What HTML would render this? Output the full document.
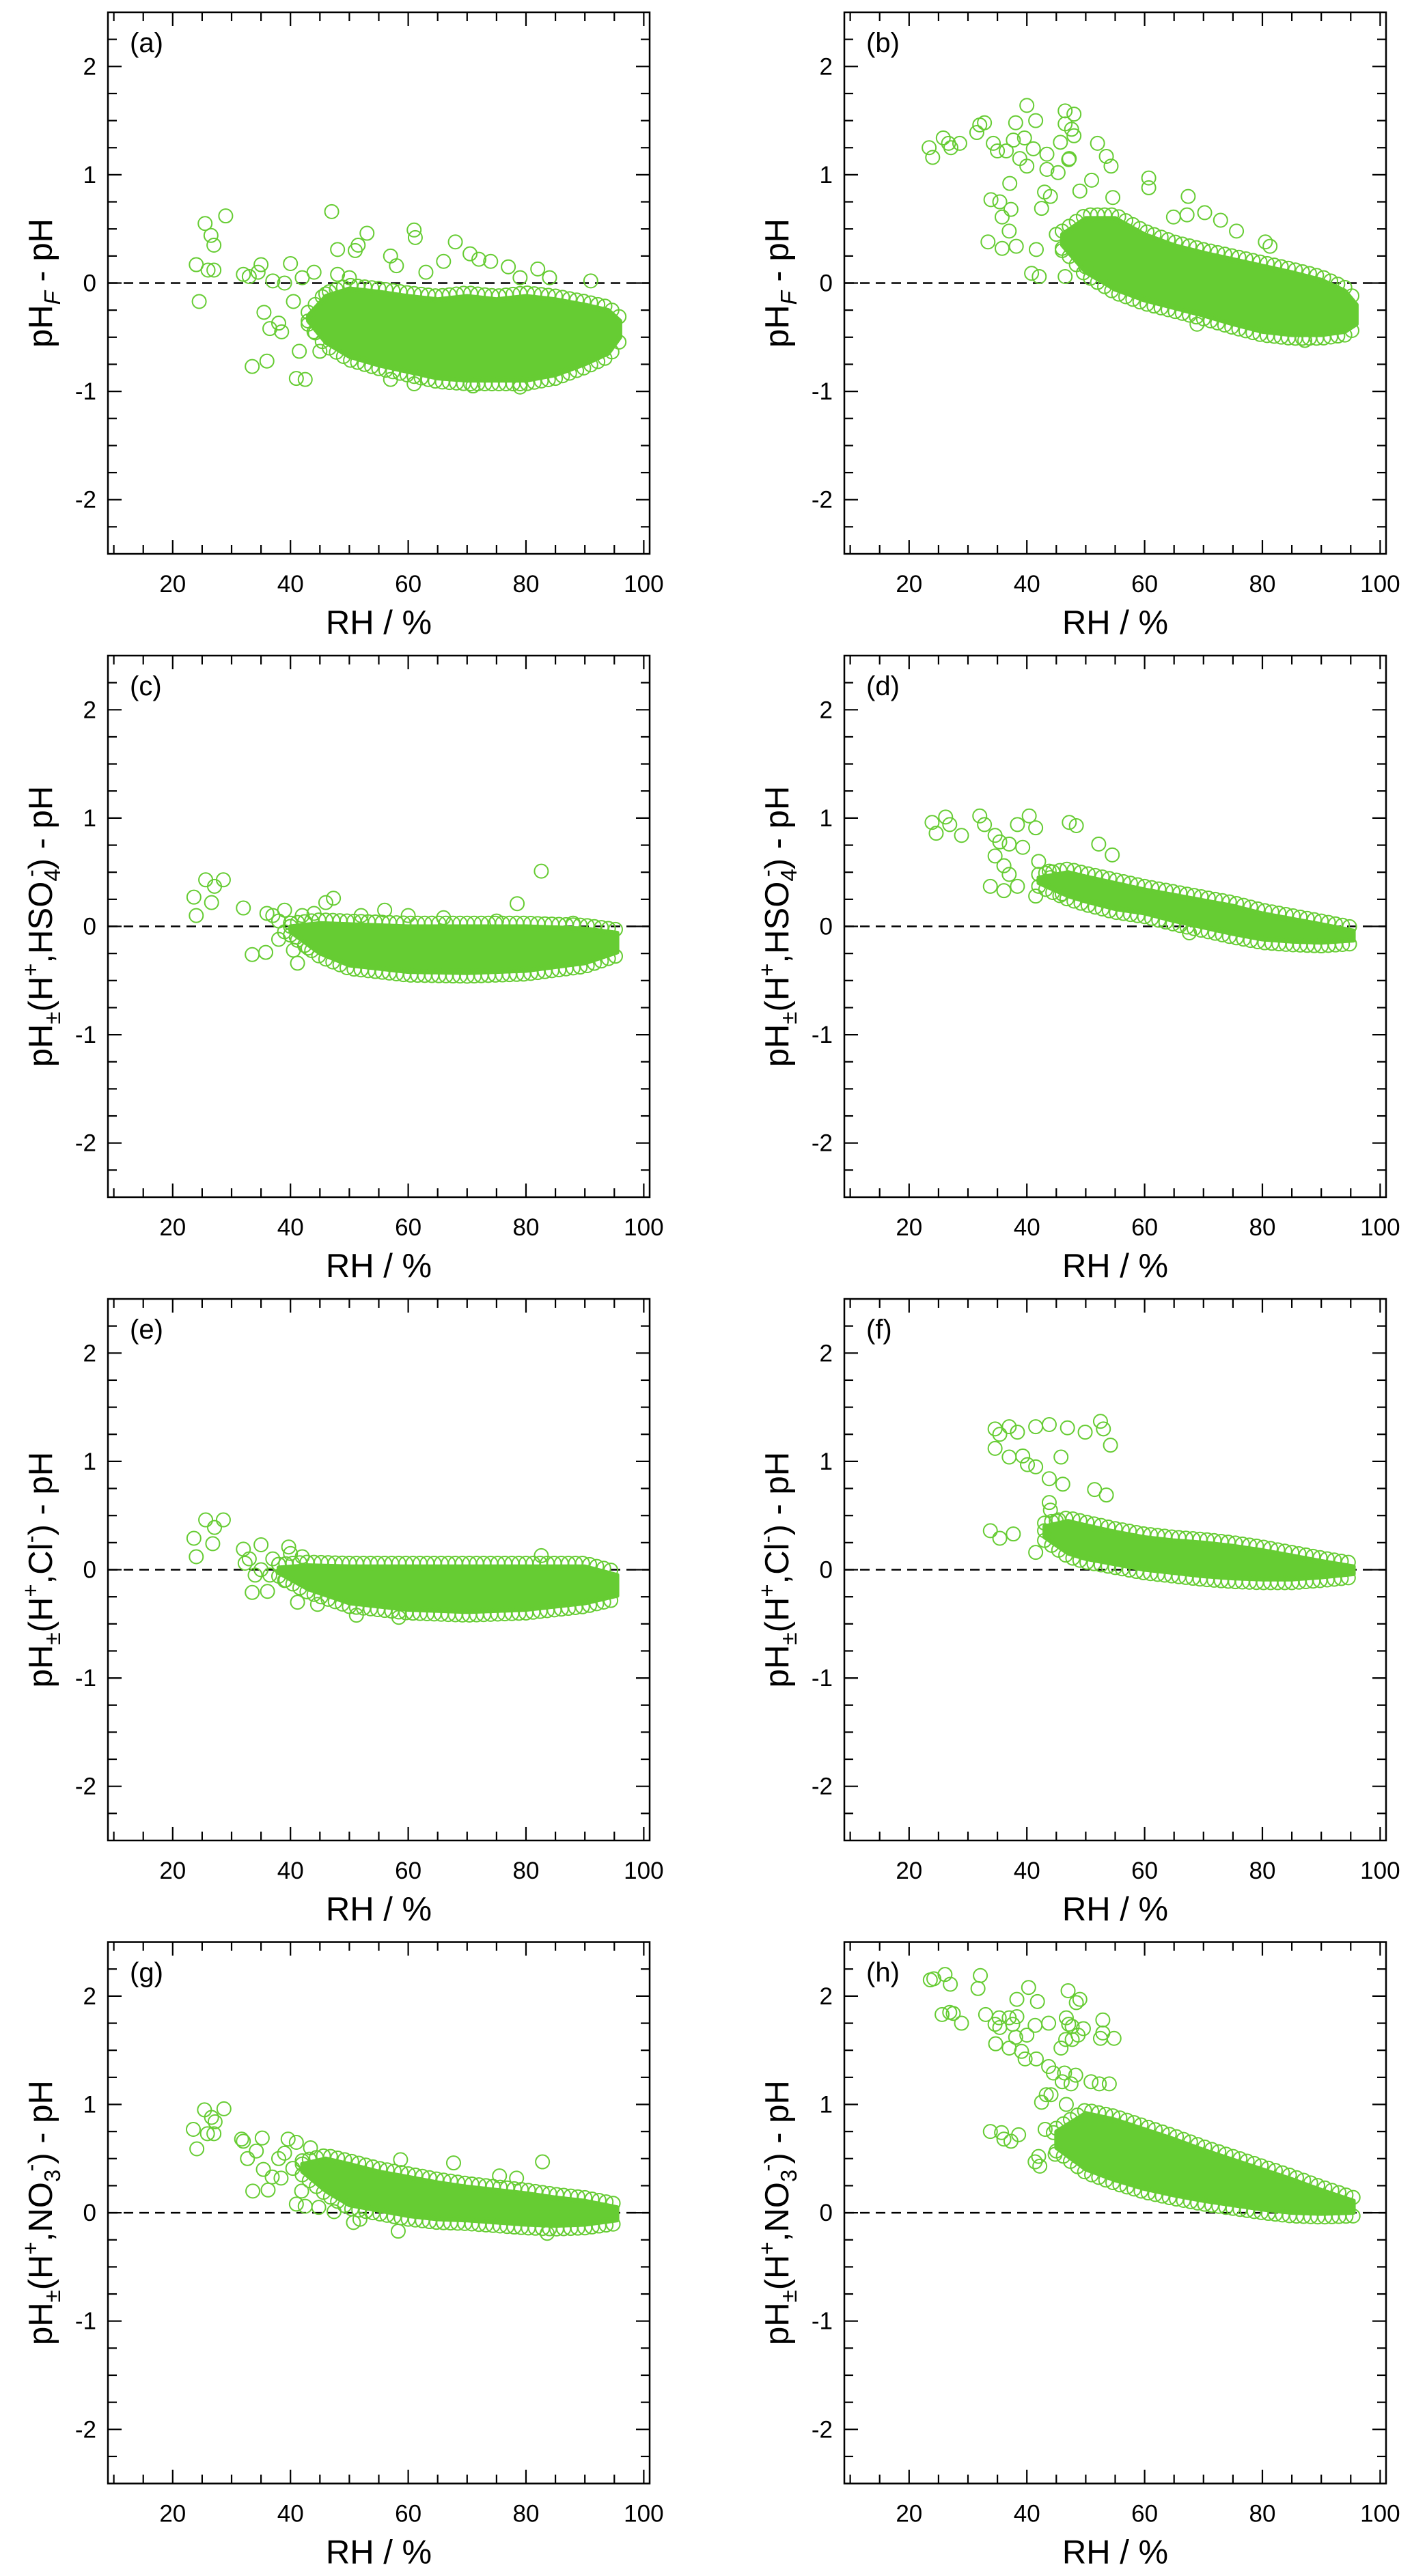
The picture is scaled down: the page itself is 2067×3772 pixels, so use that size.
<!DOCTYPE html>
<html><head><meta charset="utf-8"><style>
html,body{margin:0;padding:0;background:#fff;}
svg{display:block;font-family:"Liberation Sans",Arial,sans-serif;}
</style></head><body>
<svg id="fig" width="2067" height="3772" viewBox="0 0 2067 3772" xmlns="http://www.w3.org/2000/svg"></svg>
<script>
// ---------- data ----------
const xTicks=[20,40,60,80,100];
const yTicks=[-2,-1,0,1,2];
const panelLabels=["(a)","(b)","(c)","(d)","(e)","(f)","(g)","(h)"];

const aOutX=[24,24.5,25.5,26,26.5,27,27,29,32,33.5,34.5,35,35.5,36,36.5,38,38.5,40,40.5,41,41.5,42.5,43,44,45,47,48,51,51.5,53,57,57,58,61,61.2,63,66,68,70.5,72,74,77,79,82,84,91,61,71,79,37,42,44,33,39,46,48,50];
const aOutY=[0.17,-0.17,0.55,0.12,0.44,0.35,0.12,0.62,0.08,-0.77,0.1,0.17,-0.27,-0.72,-0.42,-0.37,-0.45,0.18,-0.17,-0.88,-0.63,-0.89,-0.35,-0.45,-0.63,0.66,0.31,0.3,0.35,0.46,0.25,-0.89,0.16,0.49,0.42,0.1,0.2,0.38,0.27,0.22,0.2,0.15,0.05,0.13,0.05,0.02,-0.93,-0.95,-0.96,0.02,0.05,0.1,0.06,0.0,-0.1,0.08,0.05];
const aCoreRh=[43,46,50,55,60,65,70,75,80,85,90,94,96];
const aCoreHi=[-0.3,-0.12,-0.05,-0.08,-0.12,-0.15,-0.12,-0.15,-0.12,-0.15,-0.2,-0.25,-0.35];
const aCoreLo=[-0.35,-0.55,-0.68,-0.76,-0.82,-0.88,-0.9,-0.9,-0.9,-0.85,-0.75,-0.65,-0.5];

const bOutX=[23.4,24,25.8,26.7,27.1,28.6,31.5,32,32.8,34.3,35,36.5,37.7,38.1,38.8,40,39.6,41.5,41.1,40,43.4,46.5,48,46.5,47.6,48,45.7,47.2,52,53.5,54.3,60.7,60.7,67.4,33.9,35.4,35.8,37.3,37,37.1,33.4,35.8,38.2,40.8,42.1,41.6,42.5,43,43.4,45.3,47.1,54.6,64.9,67.2,70.2,72.9,75.6,80.5,81.3,46.5,68.9,87.2,44,45,46,49,51,50];
const bOutY=[1.25,1.16,1.34,1.29,1.25,1.29,1.39,1.46,1.48,1.29,1.22,1.22,1.32,1.48,1.15,1.64,1.34,1.5,1.24,1.08,1.19,1.59,1.56,1.47,1.42,1.36,1.3,1.15,1.29,1.17,1.08,0.97,0.88,0.8,0.77,0.75,0.61,0.68,0.48,0.92,0.38,0.32,0.34,0.09,0.06,0.31,0.69,0.84,1.05,1.02,1.14,0.79,0.61,0.63,0.65,0.58,0.48,0.38,0.34,0.06,-0.38,-0.53,0.8,0.45,0.3,0.85,0.95,0.15];
const bCoreRh=[46,50,55,60,65,70,75,80,85,90,94,96];
const bCoreHi=[0.45,0.6,0.6,0.45,0.35,0.28,0.22,0.16,0.1,0.03,-0.07,-0.2];
const bCoreLo=[0.35,0.1,-0.06,-0.16,-0.23,-0.3,-0.38,-0.45,-0.48,-0.48,-0.45,-0.38];

const cOutX=[23.6,25.6,27.1,26.6,28.6,24,32,33.5,35.8,41.2,47.3,82.6,78.5,36,37,38,39,39,40,41,42,43,44,38,40.5,46,52,56,60,66,75,88];
const cOutY=[0.27,0.43,0.37,0.22,0.43,0.1,0.17,-0.26,-0.24,-0.34,0.26,0.51,0.21,0.12,0.1,0.05,0.15,-0.05,0.0,-0.1,0.1,-0.2,0.12,-0.12,-0.22,0.22,0.1,0.15,0.1,0.08,0.05,0.03];
const cCoreRh=[40,45,50,60,70,80,90,95.5];
const cCoreHi=[0.0,0.03,0.02,0.0,0.0,0.0,-0.02,-0.06];
const cCoreLo=[-0.05,-0.25,-0.36,-0.42,-0.43,-0.41,-0.34,-0.24];

const dOutX=[23.9,24.6,26.2,26.9,28.9,32,32.8,38.4,40.4,41.5,47.2,48.4,33.8,36.1,38.4,41.5,34.6,35.4,37,39.3,34.6,36.1,37,43.8,52.2,54.5,67.6,42,44,46];
const dOutY=[0.96,0.86,1.01,0.94,0.84,1.02,0.94,0.94,1.02,0.91,0.96,0.93,0.37,0.33,0.37,0.28,0.84,0.78,0.76,0.73,0.65,0.56,0.48,0.51,0.76,0.66,-0.06,0.6,0.45,0.3];
const dCoreRh=[42,47,50,55,60,65,70,75,80,85,90,95.5];
const dCoreHi=[0.45,0.5,0.46,0.4,0.34,0.29,0.24,0.19,0.12,0.07,0.02,-0.04];
const dCoreLo=[0.4,0.28,0.23,0.16,0.12,0.05,-0.01,-0.07,-0.12,-0.14,-0.15,-0.13];

const eOutX=[23.6,25.6,27.1,28.6,24,26.8,32,33.5,36.1,41.2,44.6,51.2,58.4,32.3,35,39.7,82.6,33,35,36.5,37,38,39,34,40,42];
const eOutY=[0.29,0.46,0.39,0.46,0.12,0.24,0.19,-0.21,-0.2,-0.3,-0.32,-0.42,-0.44,0.06,0.23,0.21,0.13,0.1,0.0,-0.05,0.1,0.05,-0.1,-0.05,0.15,0.12];
const eCoreRh=[38,43,50,60,70,80,90,95.5];
const eCoreHi=[0.02,0.04,0.03,0.03,0.03,0.03,0.03,-0.05];
const eCoreLo=[-0.03,-0.18,-0.31,-0.37,-0.39,-0.37,-0.31,-0.24];

const fOutX=[34.6,35.4,37,38.4,41.5,43.8,46.9,49.9,52.5,53,54.2,34.6,37,39.3,40.1,41.5,45.8,43.8,46.1,43.8,33.8,35.4,37.7,41.5,51.5,53.5,43,44,45];
const fOutY=[1.3,1.25,1.32,1.27,1.32,1.34,1.31,1.27,1.37,1.3,1.15,1.12,1.04,1.05,0.97,0.95,1.04,0.84,0.79,0.62,0.36,0.29,0.33,0.16,0.74,0.69,0.36,0.55,0.45];
const fCoreRh=[43,47,50,55,60,65,70,75,80,85,90,95.5];
const fCoreHi=[0.4,0.45,0.41,0.35,0.3,0.27,0.25,0.22,0.18,0.13,0.08,0.03];
const fCoreLo=[0.3,0.15,0.1,0.05,0.0,-0.03,-0.06,-0.08,-0.09,-0.09,-0.07,-0.04];

const gOutX=[23.5,24.1,25.4,25.9,26.6,27,27.2,28.7,31.7,32,32.7,33.6,36.2,34.2,35.2,35.4,36.9,38.4,39.6,40.4,41,41.9,42.5,44.8,47.4,50.7,51.8,58.3,58.7,67.7,75.5,78.4,82.8,83.6,41,43.4,38,39,42];
const gOutY=[0.77,0.59,0.95,0.73,0.88,0.73,0.84,0.96,0.68,0.66,0.5,0.2,0.21,0.57,0.69,0.4,0.33,0.32,0.68,0.41,0.08,0.2,0.06,0.05,0.01,-0.09,-0.06,-0.17,0.49,0.46,0.34,0.32,0.47,-0.19,0.65,0.6,0.5,0.55,0.45];
const gCoreRh=[42,46,50,55,60,65,70,75,80,85,90,95.5];
const gCoreHi=[0.45,0.5,0.45,0.38,0.33,0.28,0.24,0.21,0.18,0.14,0.11,0.05];
const gCoreLo=[0.38,0.2,0.07,0.02,-0.03,-0.06,-0.07,-0.09,-0.11,-0.12,-0.11,-0.07];

const hOutX=[23.6,24.2,26.1,27,25.6,26.9,27.5,28.9,31.7,32.1,33,34.7,34.6,35.3,35.4,37,37,37.6,38.3,38.1,38.3,39.1,39.7,40,40.3,41.4,41.8,41.6,43.7,47,46.7,47.1,47.7,48.4,49,48.7,49.6,45.8,46.6,47.7,52.9,52.9,52.5,54.8,43.7,44.5,46.4,48.3,46,47.5,43.3,44.1,42.5,46.7,50.9,52.3,54,33.8,35.7,36.1,37.3,38.6,41.4,42.2,42,43.1,44.8,44.5];
const hOutY=[2.15,2.16,2.2,2.11,1.83,1.85,1.84,1.75,2.07,2.19,1.83,1.56,1.74,1.8,1.71,1.52,1.8,1.74,1.81,1.62,1.97,1.49,1.42,1.64,2.08,1.73,1.95,1.42,1.75,2.05,1.8,1.74,1.72,1.94,1.97,1.64,1.7,1.52,1.6,1.6,1.78,1.66,1.61,1.61,1.35,1.29,1.29,1.27,1.21,1.19,1.09,1.09,1.02,1.0,1.21,1.19,1.19,0.75,0.74,0.68,0.66,0.72,0.47,0.43,0.52,0.77,0.54,0.74];
const hCoreRh=[45,50,55,60,65,70,75,80,85,90,95.5];
const hCoreHi=[0.75,0.92,0.86,0.77,0.68,0.58,0.49,0.4,0.31,0.21,0.11];
const hCoreLo=[0.6,0.4,0.3,0.22,0.16,0.11,0.07,0.03,0.0,-0.01,0.0];

// ---------- layout ----------
const svg=document.getElementById('fig');
const NS='http://www.w3.org/2000/svg';
const colLeft=[158,1236], rowTop=[18,960,1902,2843.6];
const PW=793, PH=793, XMIN=9, XMAX=101, YMIN=-2.5, YMAX=2.5;
const GREEN='#66cc33';

function mk(tag,attrs,parent){const e=document.createElementNS(NS,tag);for(const k in attrs)e.setAttribute(k,attrs[k]);(parent||svg).appendChild(e);return e;}
function interp(xs,ys,x){for(let i=0;i<xs.length-1;i++){if(x>=xs[i]&&x<=xs[i+1]){const t=(x-xs[i])/(xs[i+1]-xs[i]);return ys[i]+t*(ys[i+1]-ys[i]);}}return ys[ys.length-1];}

const titles=[
 [["pH",""],["F","subi"],[" - pH",""]],
 [["pH",""],["F","subi"],[" - pH",""]],
 [["pH",""],["±","sub"],["(H",""],["+","sup"],[",HSO",""],["4","sub"],["-","supb"],[") - pH",""]],
 [["pH",""],["±","sub"],["(H",""],["+","sup"],[",HSO",""],["4","sub"],["-","supb"],[") - pH",""]],
 [["pH",""],["±","sub"],["(H",""],["+","sup"],[",Cl",""],["-","sup"],[") - pH",""]],
 [["pH",""],["±","sub"],["(H",""],["+","sup"],[",Cl",""],["-","sup"],[") - pH",""]],
 [["pH",""],["±","sub"],["(H",""],["+","sup"],[",NO",""],["3","sub"],[" -","supb"],[") - pH",""]],
 [["pH",""],["±","sub"],["(H",""],["+","sup"],[",NO",""],["3","sub"],[" -","supb"],[") - pH",""]]
];
const outX=[aOutX,bOutX,cOutX,dOutX,eOutX,fOutX,gOutX,hOutX];
const outY=[aOutY,bOutY,cOutY,dOutY,eOutY,fOutY,gOutY,hOutY];
const coreRh=[aCoreRh,bCoreRh,cCoreRh,dCoreRh,eCoreRh,fCoreRh,gCoreRh,hCoreRh];
const coreHi=[aCoreHi,bCoreHi,cCoreHi,dCoreHi,eCoreHi,fCoreHi,gCoreHi,hCoreHi];
const coreLo=[aCoreLo,bCoreLo,cCoreLo,dCoreLo,eCoreLo,fCoreLo,gCoreLo,hCoreLo];

for(let p=0;p<8;p++){
  const L=colLeft[p%2], T=rowTop[Math.floor(p/2)];
  const sx=v=>L+(v-XMIN)/(XMAX-XMIN)*PW;
  const sy=v=>T+(YMAX-v)/(YMAX-YMIN)*PH;
  const g=mk('g',{});
  
  
  const clipId='clip'+p;
  const cp=mk('clipPath',{id:clipId},g);
  mk('rect',{x:L,y:T,width:PW,height:PH},cp);

  const zl=mk('line',{x1:L,x2:L+PW,y1:sy(0),y2:sy(0),stroke:'#000','stroke-width':2.5,'stroke-dasharray':'14 9'},g);
  
  

  const pg=mk('g',{'clip-path':'url(#'+clipId+')'},g);
  
  
  const rh=coreRh[p], hi=coreHi[p], lo=coreLo[p];
  let pts=[];
  for(let i=0;i<rh.length;i++)pts.push(sx(rh[i])+','+sy(hi[i]));
  for(let i=rh.length-1;i>=0;i--)pts.push(sx(rh[i])+','+sy(lo[i]));
  const poly=mk('polygon',{points:pts.join(' '),fill:GREEN,stroke:GREEN,'stroke-width':6,'stroke-linejoin':'round'},pg);
  
  
  // fringe circles along the envelope edges
  const r0=rh[0], r1=rh[rh.length-1];
  for(let x=r0;x<=r1+0.01;x+=1.2){
    const h=interp(rh,hi,x), l=interp(rh,lo,x);
    for(const v of [h+0.03,l-0.03]){
      const c=mk('circle',{cx:sx(x),cy:sy(v),r:10,fill:'none',stroke:GREEN,'stroke-width':2},pg);
      
      
    }
  }
  const ox=outX[p], oy=outY[p];
  const n=Math.min(ox.length,oy.length);
  for(let i=0;i<n;i++){
    const c=mk('circle',{cx:sx(ox[i]),cy:sy(oy[i]),r:10,fill:'none',stroke:GREEN,'stroke-width':2},pg);
    
    
  }

  const fr=mk('rect',{x:L,y:T,width:PW,height:PH,fill:'none',stroke:'#000','stroke-width':2.5},g);
  
  

  for(let v=10;v<=100;v+=5){
    const len=(v%20===0)?20:13, x=sx(v);
    mk('line',{x1:x,x2:x,y1:T+PH,y2:T+PH-len,stroke:'#000','stroke-width':2.2},g);
    mk('line',{x1:x,x2:x,y1:T,y2:T+len,stroke:'#000','stroke-width':2.2},g);
  }
  for(let k=-9;k<=9;k++){
    const v=k*0.25, len=(k%4===0)?20:13, y=sy(v);
    mk('line',{x1:L,x2:L+len,y1:y,y2:y,stroke:'#000','stroke-width':2.2},g);
    mk('line',{x1:L+PW,x2:L+PW-len,y1:y,y2:y,stroke:'#000','stroke-width':2.2},g);
  }
  for(const v of xTicks){
    const t=mk('text',{x:sx(v),y:T+PH+56,'font-size':35,'text-anchor':'middle',fill:'#000'},g);
    t.textContent=String(v);
    
    
  }
  for(const v of yTicks){
    const t=mk('text',{x:L-17,y:sy(v)+12,'font-size':35,'text-anchor':'end',fill:'#000'},g);
    t.textContent=String(v);
    
    
  }
  const xt=mk('text',{x:L+PW/2,y:T+PH+117,'font-size':49,'text-anchor':'middle',fill:'#000'},g);
  xt.textContent='RH / %';
  
  

  const pl=mk('text',{x:L+32,y:T+58,'font-size':40,fill:'#000'},g);
  pl.textContent=panelLabels[p];
  
  

  const cx=L-82, cy=T+PH/2;
  const yt=mk('text',{x:0,y:0,'font-size':49,'text-anchor':'middle',fill:'#000',transform:'translate('+cx+','+cy+') rotate(-90)'},g);
  
  
  let shift=0;
  for(const [txt,type] of titles[p]){
    const ts=document.createElementNS(NS,'tspan');
    let target=0, fs=49;
    if(type==='sub'||type==='subi'){target=12;fs=33;}
    if(type==='sup'){target=-20;fs=33;}
    if(type==='supb'){target=-20;fs=33;}
    ts.setAttribute('dy',target-shift);
    shift=target;
    ts.setAttribute('font-size',fs);
    if(type==='subi')ts.setAttribute('font-style','italic');
    if(type==='supb')ts.setAttribute('dx',-12);
    ts.textContent=txt;
    yt.appendChild(ts);
  }
}
</script>
</body></html>
